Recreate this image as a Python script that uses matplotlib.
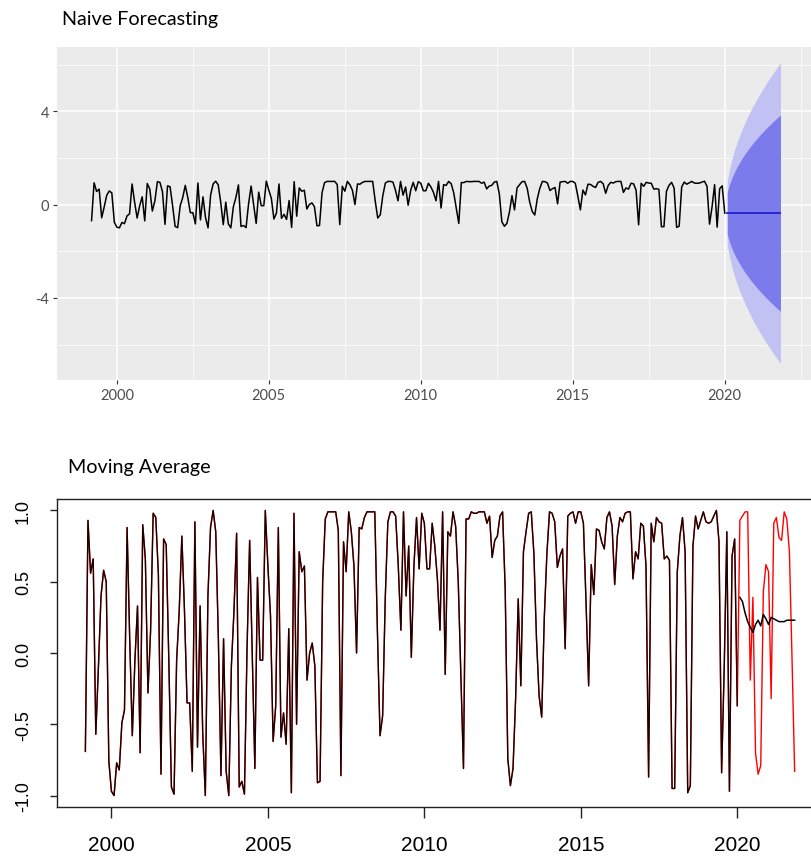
import numpy as np
import matplotlib.pyplot as plt
from matplotlib.ticker import MultipleLocator

plt.rcParams['axes.unicode_minus'] = False

# monthly series, first observation March 1999
start_year = 1999 + 2 / 12

train = [
    -0.69, 0.93, 0.56, 0.66, -0.57, -0.10, 0.40, 0.58, 0.50, -0.76,
    -0.97, -1.00, -0.77, -0.82, -0.49, -0.40, 0.88, 0.10, -0.58, -0.05,
    0.33, -0.70, 0.90, 0.66, -0.28, 0.15, 0.98, 0.95, 0.55, -0.85,
    0.80, 0.76, -0.05, -0.94, -0.99, -0.05, 0.30, 0.82, 0.30, -0.35,
    -0.35, -0.83, 0.92, -0.66, 0.33, -0.56, -1.00, 0.40, 0.88, 1.00,
    0.85, 0.10, -0.86, 0.10, -0.83, -1.00, -0.09, 0.30, 0.84, -0.94,
    -0.90, -0.99, 0.03, 0.79, 0.00, -0.81, 0.53, -0.05, -0.05, 1.00,
    0.61, 0.26, -0.62, -0.37, 0.88, -0.59, -0.42, -0.64, 0.17, -0.98,
    0.98, -0.50, 0.71, 0.57, 0.61, -0.19, 0.00, 0.07, -0.09, -0.91,
    -0.90, 0.50, 0.94, 0.99, 0.99, 0.99, 0.99, 0.86, -0.86, 0.78,
    0.57, 0.99, 0.85, 0.61, 0.00, 0.88, 0.87, 0.95, 0.99, 0.99,
    0.99, 0.99, 0.15, -0.58, -0.44, 0.38, 0.92, 0.99, 0.99, 0.96,
    0.61, 0.16, 0.99, 0.40, 0.75, -0.03, 0.61, 0.95, 0.59, 0.98,
    0.91, 0.59, 0.59, 0.91, 0.75, 0.52, 0.16, 0.99, -0.15, 0.85,
    0.82, 0.99, 0.89, 0.50, -0.16, -0.81, 0.94, 0.94, 0.99, 0.98,
    0.98, 0.99, 0.99, 0.99, 0.91, 0.96, 0.67, 0.79, 0.82, 0.96,
    0.99, 0.45, -0.74, -0.93, -0.81, -0.32, 0.38, -0.23, 0.71, 0.85,
    0.98, 0.99, 0.70, 0.10, -0.30, -0.45, 0.25, 0.70, 0.99, 0.98,
    0.92, 0.60, 0.68, 0.73, 0.03, 0.96, 0.98, 0.99, 0.91, 0.99,
    0.99, 0.91, 0.36, -0.23, 0.62, 0.41, 0.87, 0.86, 0.78, 0.73,
    0.95, 0.99, 0.89, 0.48, 0.82, 0.95, 0.92, 0.98, 0.99, 0.99,
    0.52, 0.71, 0.66, 0.91, 0.89, 0.61, -0.87, 0.91, 0.78, 0.95,
    0.92, 0.91, 0.66, 0.68, 0.65, -0.95, -0.95, 0.57, 0.82, 0.95,
    0.71, -0.98, -0.93, 0.75, 0.96, 0.87, 0.93, 0.99, 0.92, 0.91,
    0.92, 0.96, 1.00, 0.78, -0.84, -0.10, 0.85, -0.97, 0.68, 0.80,
    -0.37,
]

test = [
    0.93, 0.96, 0.99, 0.99, -0.19, 0.39, -0.70, -0.85, -0.79, 0.43,
    0.62, 0.57, -0.32, 0.91, 0.95, 0.81, 0.79, 0.99, 0.94, 0.71,
    -0.04, -0.83,
]

ma_forecast = [
    0.39, 0.36, 0.28, 0.22, 0.18, 0.145, 0.20, 0.23, 0.19, 0.27,
    0.24, 0.20, 0.25, 0.24, 0.23, 0.22, 0.22, 0.22, 0.23, 0.23,
    0.23, 0.23,
]

naive_sd = 0.70  # residual sd

n_train = len(train)
t_train = start_year + np.arange(n_train) / 12
t_test = start_year + (n_train + np.arange(len(test))) / 12
t_all = np.concatenate([t_train, t_test])
y_all = np.concatenate([train, test])

# naive forecast: last observed value, intervals widening with sqrt(h)
h = np.arange(1, len(test) + 1)
level = np.full(len(h), train[-1])
half80 = 1.2816 * naive_sd * np.sqrt(h)
half95 = 1.96 * naive_sd * np.sqrt(h)

W, H = 811, 862
fig = plt.figure(figsize=(W / 100, H / 100), dpi=100)

# ---- top: ggplot-like naive forecast ----
ax1 = fig.add_axes([57 / W, 1 - 381 / H, (815 - 57) / W, (381 - 48) / H])
ax1.set_facecolor('#EBEBEB')
ax1.fill_between(t_test, level - half95, level + half95, color='#C1C1F4', lw=0)
ax1.fill_between(t_test, level - half80, level + half80, color='#7B7BEC', lw=0)
ax1.plot(t_test, level, color='#1F1FD6', lw=1.3)
ax1.plot(t_train, train, color='black', lw=1.1)

ax1.set_xlim(1998.03, 2022.97)
ax1.set_ylim(-7.52, 6.75)
ax1.xaxis.set_major_locator(MultipleLocator(5))
ax1.xaxis.set_minor_locator(MultipleLocator(2.5))
ax1.yaxis.set_major_locator(MultipleLocator(4))
ax1.yaxis.set_minor_locator(MultipleLocator(2))
ax1.set_axisbelow(True)
ax1.grid(which='major', color='white', lw=1.1)
ax1.grid(which='minor', color='white', lw=0.5)
for s in ax1.spines.values():
    s.set_visible(False)
ax1.tick_params(which='major', length=3, width=0.8, color='#333333',
                labelcolor='#4D4D4D', labelsize=10.5, pad=2.5)
ax1.tick_params(which='minor', length=0)
for lab in ax1.get_xticklabels() + ax1.get_yticklabels():
    lab.set_family('Lato')
fig.text(62 / W, 1 - 19 / H, 'Naive Forecasting', fontsize=14.2,
         family='Lato', va='center', ha='left')

# ---- bottom: base-R-like moving average ----
ax2 = fig.add_axes([57 / W, 1 - 808 / H, (823 - 57) / W, (808 - 500) / H])
ax2.plot(t_all, y_all, color='red', lw=1.0)
ax2.plot(t_train, train, color='black', lw=1.0, alpha=0.9)
ax2.plot(t_test, ma_forecast, color='black', lw=1.1)

ax2.set_xlim(1998.26, 2022.74)
ax2.set_ylim(-1.08, 1.08)
ax2.set_xticks([2000, 2005, 2010, 2015, 2020])
ax2.set_yticks([-1.0, -0.5, 0.0, 0.5, 1.0])
ax2.set_yticklabels(['-1.0', '-0.5', '0.0', '0.5', '1.0'],
                    rotation=90, va='center', family='Liberation Sans',
                    fontsize=13)
ax2.set_xticklabels(['2000', '2005', '2010', '2015', '2020'],
                    family='Liberation Sans', fontsize=15)
for s in ax2.spines.values():
    s.set_color('#222222')
    s.set_linewidth(1.0)
ax2.tick_params(axis='y', length=5, width=1.0, color='#222222', pad=13)
ax2.tick_params(axis='x', length=8, width=1.0, color='#222222', pad=12)
fig.text(68 / W, 1 - 468 / H, 'Moving Average', fontsize=14.2,
         family='Lato', va='center', ha='left')

fig.savefig('out.png', dpi=100)
